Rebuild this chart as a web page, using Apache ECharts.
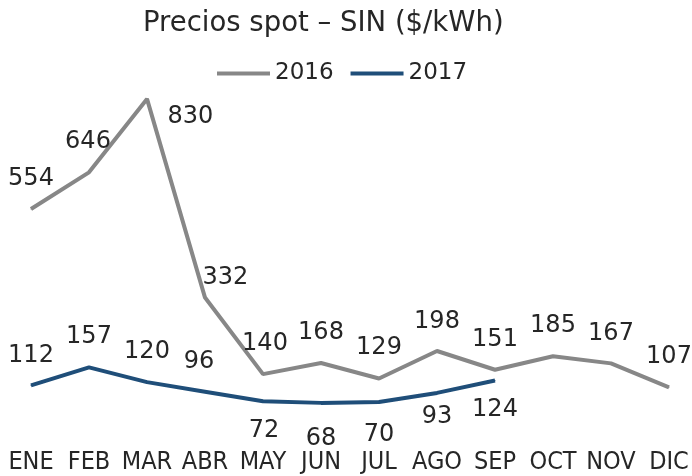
<!DOCTYPE html>
<html>
<head>
<meta charset="utf-8">
<title>Precios spot</title>
<script src="https://cdn.jsdelivr.net/npm/echarts@6/dist/echarts.min.js"></script>
<style>
	html,body{margin:0;padding:0;background:#fff;}
	#main{width:692px;height:476px;}
</style>
</head>
<body>
<div id="main"></div>
<script type="text/javascript">
	var months = ['ENE','FEB','MAR','ABR','MAY','JUN','JUL','AGO','SEP','OCT','NOV','DIC'];
	var values2016 = [554,646,830,332,140,168,129,198,151,185,167,107];
	var values2017 = [112,157,120,96,72,68,70,93,124];

	//label placement, like the custom labels of the original
	var place2016 = [
		{position:'top',offset:[0,2]},{position:'top',offset:[-1,2]},{position:'right',offset:[0,18]},{position:'right',offset:[-23,-20]},
		{position:'top',offset:[2,2]},{position:'top',offset:[0,2]},{position:'top',offset:[0,2]},{position:'top',offset:[0,3]},
		{position:'top',offset:[0,2]},{position:'top',offset:[0,2]},{position:'top',offset:[0,3]},{position:'top',offset:[0,2]}
	];
	var place2017 = [
		{position:'top',offset:[0,3]},{position:'top',offset:[0,2]},{position:'top',offset:[0,2]},{position:'top',offset:[-6,3]},
		{position:'bottom',offset:[1,-3]},{position:'bottom',offset:[0,3]},{position:'bottom',offset:[0,0]},
		{position:'bottom',offset:[0,-9]},{position:'bottom',offset:[0,-3]}
	];

	var narrow = 'DejaVu Sans Condensed';
	var labelFont = {fontFamily:'DejaVu Sans',fontSize:24,color:'#262626',distance:20};

	function buildData(vals,place){
		var out = [];
		for(var i=0;i<vals.length;i++){
			out.push({value:vals[i],label:place[i]});
		}
		return out;
	}

	var myChart = echarts.init(document.getElementById('main'));
	var option = {
		animation:false,
		title:{
			text:'Precios spot \u2013 SIN ($/kWh)',
			left:138,
			top:5,
			textStyle:{fontFamily:'DejaVu Sans',fontSize:27.5,fontWeight:'normal',color:'#262626'}
		},
		legend:{
			top:57,
			left:212,
			itemWidth:53,
			itemHeight:4,
			itemGap:17,
			icon:'rect',
			textStyle:{fontFamily:'DejaVu Sans',fontSize:23,color:'#262626'},
			data:['2016','2017']
		},
		grid:{left:31,right:23,top:71,bottom:46},
		xAxis:{
			type:'category',
			boundaryGap:false,
			data:months,
			axisLine:{show:false},
			axisTick:{show:false},
			axisLabel:{fontFamily:narrow,fontSize:25,color:'#262626',margin:20,interval:0}
		},
		yAxis:{
			type:'value',
			min:0,
			max:900,
			show:false,
			splitLine:{show:false}
		},
		series:[
			{
				name:'2016',
				type:'line',
				data:buildData(values2016,place2016),
				symbol:'circle',
				symbolSize:1,
				lineStyle:{color:'#878787',width:4},
				itemStyle:{color:'#878787'},
				label:Object.assign({show:true},labelFont)
			},
			{
				name:'2017',
				type:'line',
				data:buildData(values2017,place2017),
				symbol:'circle',
				symbolSize:1,
				lineStyle:{color:'#1f4e79',width:4},
				itemStyle:{color:'#1f4e79'},
				label:Object.assign({show:true},labelFont)
			}
		]
	};
	myChart.setOption(option);
</script>
</body>
</html>
